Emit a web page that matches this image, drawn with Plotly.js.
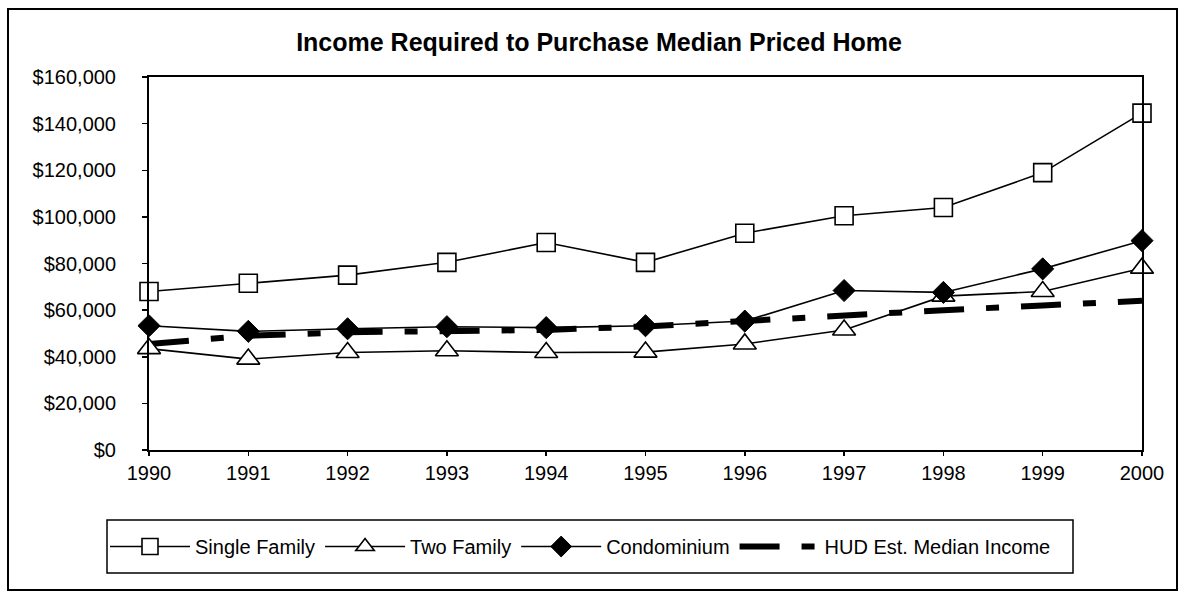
<!DOCTYPE html>
<html>
<head>
<meta charset="utf-8">
<script src="https://cdn.plot.ly/plotly-3.0.1.min.js"></script>
<style>
  html, body { margin: 0; padding: 0; background: #fff; }
  #chart { width: 1184px; height: 598px; }
</style>
</head>
<body>
<div id="chart"></div>
<script>
// ---- data ----
const years = [1990, 1991, 1992, 1993, 1994, 1995, 1996, 1997, 1998, 1999, 2000];
const singleFamily = [68000, 71500, 75000, 80500, 89000, 80500, 93000, 100500, 104000, 119000, 144500];
const twoFamily    = [43500, 39000, 41800, 42600, 41800, 42000, 45500, 51500, 66000, 68000, 78000];
const condominium  = [53300, 50900, 52000, 52900, 52500, 53300, 55300, 68400, 67600, 77700, 89800];
const hudIncome    = [45500, 49000, 50500, 51000, 51500, 53000, 55500, 58000, 60000, 62000, 64000];
const seriesNames  = ['Single Family', 'Two Family', 'Condominium', 'HUD Est. Median Income'];
const titleText    = 'Income Required to Purchase Median Priced Home';

// ---- layout geometry (pixels) ----
const W = 1184, H = 598;
const plotL = 149, plotR = 1142, plotT = 77, plotB = 450;
const pw = plotR - plotL, ph = plotB - plotT;
const px2x = p => (p - plotL) / pw;
const px2y = p => (plotB - p) / ph;

const FONT = 'Arial, "Liberation Sans", sans-serif';

const traces = [
  {
    x: years, y: hudIncome, name: seriesNames[3], type: 'scatter', mode: 'lines',
    line: { color: '#000', width: 6, dash: '40px,22px,13px,22px' },
    legendrank: 4, cliponaxis: false
  },
  {
    x: years, y: singleFamily, name: seriesNames[0], type: 'scatter', mode: 'lines+markers',
    line: { color: '#000', width: 1.6 },
    marker: { symbol: 'square', size: 18, color: '#fff', line: { color: '#000', width: 1.6 } },
    legendrank: 1, cliponaxis: false
  },
  {
    x: years, y: twoFamily, name: seriesNames[1], type: 'scatter', mode: 'lines+markers',
    line: { color: '#000', width: 1.6 },
    marker: { symbol: 'triangle-up', size: 20, color: '#fff', line: { color: '#000', width: 1.6 } },
    legendrank: 2, cliponaxis: false
  },
  {
    x: years, y: condominium, name: seriesNames[2], type: 'scatter', mode: 'lines+markers',
    line: { color: '#000', width: 1.6 },
    marker: { symbol: 'diamond', size: 17, color: '#000', line: { color: '#000', width: 1 } },
    legendrank: 3, cliponaxis: false
  }
];

const layout = {
  width: W, height: H,
  margin: { l: plotL, r: W - plotR, t: plotT, b: H - plotB, pad: 0 },
  paper_bgcolor: '#fff', plot_bgcolor: '#fff',
  font: { family: FONT, size: 20, color: '#000' },
  title: {
    text: '<b>' + titleText + '</b>',
    font: { family: FONT, size: 25, color: '#000' },
    xref: 'container', x: 599 / W, xanchor: 'center',
    yref: 'container', y: 1 - 42 / H, yanchor: 'middle'
  },
  xaxis: {
    range: [1990, 2000], tickmode: 'array', tickvals: years, ticktext: years.map(String),
    showgrid: false, zeroline: false,
    showline: true, linecolor: '#000', linewidth: 2, mirror: true,
    ticks: 'outside', ticklen: 4, tickwidth: 1.5, tickcolor: '#000',
    tickfont: { family: FONT, size: 20, color: '#000' },
    ticklabelstandoff: 0
  },
  yaxis: {
    range: [0, 160000], dtick: 20000, tick0: 0,
    tickprefix: '$', tickformat: ',d',
    showgrid: false, zeroline: false,
    showline: true, linecolor: '#000', linewidth: 2, mirror: true,
    ticks: 'outside', ticklen: 5, tickwidth: 1.5, tickcolor: '#000',
    tickfont: { family: FONT, size: 20, color: '#000' },
    ticklabelstandoff: 22
  },
  showlegend: true,
  legend: {
    orientation: 'h',
    x: px2x(105), xanchor: 'left',
    y: px2y(546.5), yanchor: 'middle',
    bgcolor: 'rgba(0,0,0,0)', borderwidth: 0,
    font: { family: FONT, size: 20, color: '#000' },
    itemwidth: 80,
    traceorder: 'normal'
  },
  shapes: [
    { type: 'rect', xref: 'paper', yref: 'paper',
      x0: px2x(107), x1: px2x(1073), y0: px2y(573), y1: px2y(520),
      line: { color: '#000', width: 1.5 }, fillcolor: 'rgba(0,0,0,0)', layer: 'above' },
    { type: 'rect', xref: 'paper', yref: 'paper',
      x0: px2x(8), x1: px2x(1177), y0: px2y(590), y1: px2y(9),
      line: { color: '#000', width: 2 }, fillcolor: 'rgba(0,0,0,0)', layer: 'above' }
  ]
};

Plotly.newPlot('chart', traces, layout, { displayModeBar: false, staticPlot: true });
</script>
</body>
</html>
